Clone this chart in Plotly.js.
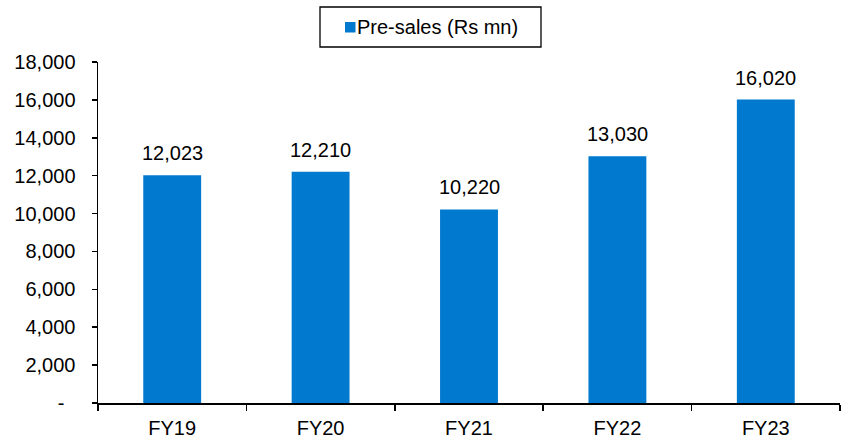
<!DOCTYPE html>
<html><head><meta charset="utf-8">
<script src="https://cdn.plot.ly/plotly-3.0.1.min.js"></script>
<style>html,body{margin:0;padding:0;background:#fff}</style>
</head><body>
<div id="chart" style="width:849px;height:441px"></div>
<script>
const categories = ["FY19","FY20","FY21","FY22","FY23"];
const preSales = [12023, 12210, 10220, 13030, 16020];
const yTickVals = [0,2000,4000,6000,8000,10000,12000,14000,16000,18000];
const yTickText = ["-\u00a0\u00a0","2,000","4,000","6,000","8,000","10,000","12,000","14,000","16,000","18,000"];
const seriesName = "Pre-sales (Rs mn)";
const barColor = "#0079CF";

const font = {family: "Liberation Sans, Arial, sans-serif", size: 20, color: "#000"};

// plot area in pixels (for placing the legend decorations)
const W = 849, H = 441, L = 98, R = 9, T = 62, B = 38;
const pw = W - L - R, ph = H - T - B;
const px = x => (x - L) / pw;
const py = y => (H - B - y) / ph;

const labelAnnotations = categories.map((c, i) => ({
  x: c, y: preSales[i], xref: "x", yref: "y",
  text: preSales[i].toLocaleString("en-US"),
  showarrow: false, yanchor: "bottom", yshift: 9, font: font
}));

Plotly.newPlot("chart", [{
  type: "bar",
  x: categories,
  y: preSales,
  name: seriesName,
  marker: {color: barColor},
  hoverinfo: "skip"
}], {
  width: W, height: H,
  margin: {l: L, r: R, t: T, b: B},
  paper_bgcolor: "#fff", plot_bgcolor: "#fff",
  font: font,
  bargap: 0.61,
  showlegend: false,
  shapes: [
    {type: "rect", xref: "paper", yref: "paper", x0: px(320), x1: px(541), y0: py(47), y1: py(7),
     line: {color: "#000", width: 1.3}, fillcolor: "#fff", layer: "above"},
    {type: "rect", xref: "paper", yref: "paper", x0: px(345), x1: px(355.5), y0: py(32.5), y1: py(22),
     line: {width: 0}, fillcolor: barColor, layer: "above"}
  ],
  annotations: labelAnnotations.concat([{
    xref: "paper", yref: "paper", x: px(355), y: py(27), xanchor: "left", yanchor: "middle",
    text: seriesName, showarrow: false, font: font
  }]),
  xaxis: {
    showline: true, linecolor: "#000", linewidth: 1.5,
    ticks: "outside", ticklen: 6, tickcolor: "#000", tickwidth: 1.5,
    tickson: "boundaries", showgrid: false, zeroline: false,
    tickfont: font, ticklabelstandoff: 6
  },
  yaxis: {
    range: [0, 18000], showline: true, linecolor: "#000", linewidth: 1.5,
    ticks: "outside", ticklen: 5, tickcolor: "#000", tickwidth: 1.5,
    tickvals: yTickVals, ticktext: yTickText, showgrid: false, zeroline: false,
    tickfont: font, ticklabelstandoff: 12
  }
}, {staticPlot: true});
</script>
</body></html>
